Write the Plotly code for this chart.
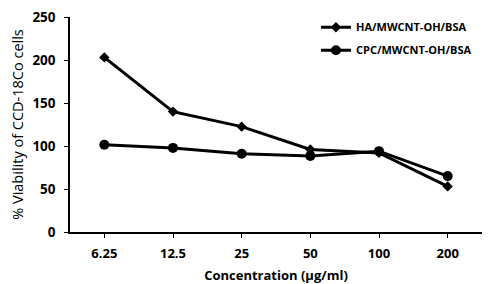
import plotly.graph_objects as go

categories = ["6.25", "12.5", "25", "50", "100", "200"]
ha_values = [203, 140, 122.5, 96, 92, 53]
cpc_values = [101.5, 97.8, 91, 88.5, 94, 65]
y_ticks = [0, 50, 100, 150, 200, 250]

font = "Open Sans, sans-serif"

fig = go.Figure()
fig.add_trace(go.Scatter(x=categories, y=ha_values, name="HA/MWCNT-OH/BSA",
                         mode="lines+markers", legendgroup="a",
                         line=dict(color="black", width=3),
                         marker=dict(symbol="diamond", size=8, color="black")))
fig.add_trace(go.Scatter(x=categories, y=cpc_values, name="CPC/MWCNT-OH/BSA",
                         mode="lines+markers", legendgroup="b",
                         line=dict(color="black", width=3),
                         marker=dict(symbol="circle", size=10, color="black")))

# page body has an 8px default margin, so the figure is 8px smaller and margins shifted
fig.update_layout(
    width=492, height=276,
    margin=dict(l=62, r=18, t=9, b=52, autoexpand=False),
    plot_bgcolor="white", paper_bgcolor="white",
    font=dict(family=font, color="black", size=12),
    showlegend=True,
    legend=dict(x=0.597, y=1.02, xanchor="left", yanchor="top",
                bgcolor="rgba(0,0,0,0)", font=dict(size=11, family=font, weight="bold"),
                tracegroupgap=4, itemwidth=30),
    xaxis=dict(type="category", showline=True, linecolor="black", linewidth=1.5,
               ticks="outside", ticklen=4, tickcolor="black", showgrid=False,
               automargin=False, ticklabelstandoff=5, ticklabeloverflow="allow",
               tickfont=dict(size=13, weight="bold"),
               title=dict(text="Concentration (µg/ml)", font=dict(size=13, weight="bold")),
               range=[-0.5, 5.5]),
    yaxis=dict(range=[0, 250], tickvals=y_ticks, showline=True, linecolor="black", linewidth=1.5,
               ticks="outside", ticklen=4, tickcolor="black", showgrid=False,
               automargin=False, ticklabelstandoff=6, ticklabeloverflow="allow",
               tickfont=dict(size=13.5, weight="bold"),
               title=dict(text="% Viability of CCD-18Co cells", font=dict(size=14.5))),
)

fig.write_html("out.html")
